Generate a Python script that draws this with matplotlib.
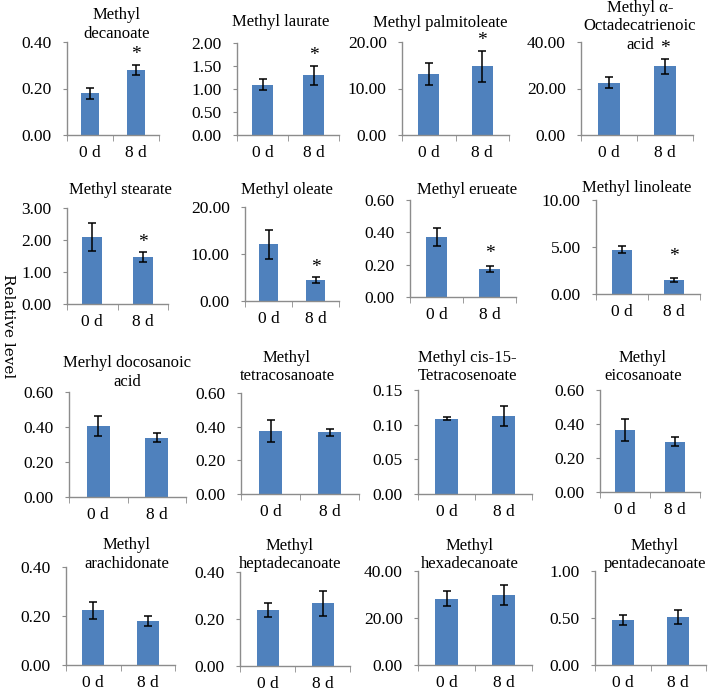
import numpy as np
import matplotlib
matplotlib.use("Agg")
import matplotlib.pyplot as plt

# Fatty acid methyl esters, relative level at 0 d and 8 d
days = ["0 d", "8 d"]

titles = [
    ["Methyl", "decanoate"],
    ["Methyl laurate"],
    ["Methyl palmitoleate"],
    ["Methyl \u03b1-", "Octadecatrienoic", "acid"],
    ["Methyl stearate"],
    ["Methyl oleate"],
    ["Methyl erueate"],
    ["Methyl linoleate"],
    ["Merhyl docosanoic", "acid"],
    ["Methyl", "tetracosanoate"],
    ["Methyl cis-15-", "Tetracosenoate"],
    ["Methyl", "eicosanoate"],
    ["Methyl", "arachidonate"],
    ["Methyl", "heptadecanoate"],
    ["Methyl", "hexadecanoate"],
    ["Methyl", "pentadecanoate"],
]

means_0d = [0.18, 1.09, 13.1, 22.5, 2.09, 12.1, 0.37, 4.70,
            0.405, 0.373, 0.1087, 0.365, 0.223, 0.238, 28.2, 0.479]
means_8d = [0.28, 1.30, 14.8, 29.5, 1.47, 4.45, 0.175, 1.52,
            0.340, 0.367, 0.1125, 0.297, 0.180, 0.266, 29.9, 0.510]
err_0d = [0.024, 0.12, 2.4, 2.3, 0.43, 3.1, 0.055, 0.38,
          0.056, 0.066, 0.002, 0.067, 0.036, 0.030, 3.1, 0.057]
err_8d = [0.023, 0.21, 3.3, 3.3, 0.15, 0.6, 0.018, 0.20,
          0.025, 0.022, 0.015, 0.024, 0.020, 0.053, 4.3, 0.078]
significant = [True, True, True, True, True, True, True, True,
               False, False, False, False, False, False, False, False]

y_max = [0.40, 2.00, 20.00, 40.00, 3.00, 20.00, 0.60, 10.00,
         0.60, 0.60, 0.15, 0.60, 0.40, 0.40, 40.00, 1.00]
y_step = [0.20, 0.50, 10.00, 20.00, 1.00, 10.00, 0.20, 5.00,
          0.20, 0.20, 0.05, 0.20, 0.20, 0.20, 20.00, 0.50]

# panel boxes in pixels: left, right, top, bottom
boxes = [
    (67, 159, 42, 135), (237, 339, 43, 135), (402, 509, 42, 135), (581, 693, 42, 135),
    (67, 168, 208, 304), (245, 339, 207, 301), (410, 516, 200, 297), (596, 700, 200, 294),
    (69, 186, 392, 497), (241, 359, 393, 494), (418, 532, 390, 494), (600, 700, 390, 492),
    (66, 175, 567, 665), (240, 350, 572, 666), (418, 532, 571, 665), (595, 706, 571, 665),
]
# title centre x and first line y in pixels
title_pos = [
    (117, 15), (281, 22), (440, 23), (640, 8),
    (120, 190), (287, 190), (467, 190), (637, 188),
    (127, 363), (287, 358), (467, 358), (643, 358),
    (127, 545), (290, 546), (470, 546), (655, 546),
]
# extra star lift (points) for the linoleate panel
star_lift = [1, 1, 1, 1, 1, 1, 3, 9, 1, 1, 1, 1, 1, 1, 1, 1]

W, H = 709, 693
bar_color = "#4F81BD"
axis_color = "#8C8C8C"
font = "Liberation Serif"
tick_size = 12.5
title_size = 12

fig = plt.figure(figsize=(W / 100, H / 100), dpi=100)

for i in range(16):
    left, right, top, bottom = boxes[i]
    ax = fig.add_axes([left / W, 1 - bottom / H, (right - left) / W, (bottom - top) / H])

    x = np.arange(2)
    vals = [means_0d[i], means_8d[i]]
    errs = [err_0d[i], err_8d[i]]
    ax.bar(x, vals, width=0.4, color=bar_color, zorder=2)
    ax.errorbar(x, vals, yerr=errs, fmt="none", ecolor="black",
                elinewidth=1.1, capsize=3, capthick=1.1, zorder=3)

    if significant[i]:
        ax.annotate("*", xy=(1, means_8d[i] + err_8d[i]), xytext=(0, star_lift[i]),
                    textcoords="offset points", ha="center", va="bottom",
                    fontsize=14, family=font)

    yt = np.arange(0, y_max[i] + y_step[i] / 2, y_step[i])
    ax.set_xlim(-0.5, 1.5)
    ax.set_ylim(0, y_max[i])
    ax.set_yticks(yt)
    ax.set_yticklabels(["%.2f" % v for v in yt], family=font, fontsize=tick_size)
    ax.set_xticks(x)
    ax.set_xticklabels(days, family=font, fontsize=tick_size)
    ax.set_xticks([-0.5, 0.5, 1.5], minor=True)

    for side in ["top", "right"]:
        ax.spines[side].set_visible(False)
    for side in ["left", "bottom"]:
        ax.spines[side].set_color(axis_color)
        ax.spines[side].set_linewidth(1.0)
    ax.tick_params(axis="y", length=3, color=axis_color, pad=8)
    ax.tick_params(axis="x", which="major", length=0, pad=7)
    ax.tick_params(axis="x", which="minor", length=4, color=axis_color)

    # title lines
    tx, ty = title_pos[i]
    for j, line in enumerate(titles[i]):
        fig.text(tx / W, 1 - (ty + j * 18.5) / H, line, ha="center", va="center",
                 family=font, fontsize=title_size)

# shared y label
fig.text(8 / W, 1 - 326 / H, "Relative level", rotation=270, ha="center", va="center",
         family="DejaVu Serif", fontsize=11)

fig.savefig("out.png", dpi=100)
